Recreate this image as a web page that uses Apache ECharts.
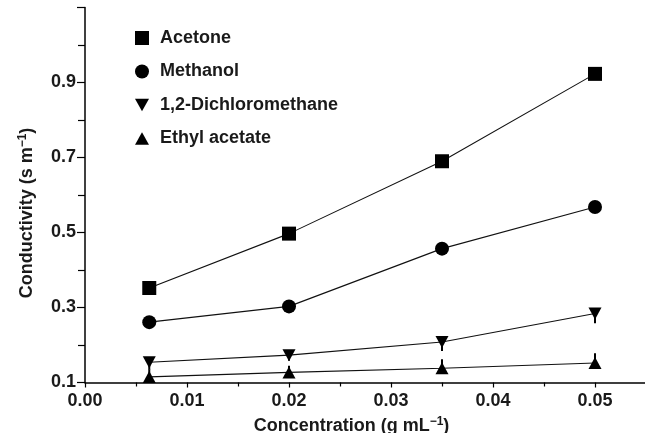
<!DOCTYPE html>
<html><head><meta charset="utf-8">
<script src="https://cdn.jsdelivr.net/npm/echarts@6/dist/echarts.min.js"></script>
<style>html,body{margin:0;padding:0;background:#fff}#c{width:645px;height:433px}</style>
</head><body><div id="c"></div>
<script>
var concentration = [0.0063, 0.02, 0.035, 0.05];
var acetone = [0.352, 0.497, 0.690, 0.923];
var methanol = [0.261, 0.303, 0.457, 0.568];
var dichloromethane = [0.154, 0.173, 0.208, 0.284];
var ethylAcetate = [0.115, 0.127, 0.138, 0.152];
var dcmErrDown = [0.02, 0.015, 0.024, 0.026];
var eaErrUp = [0.02, 0.018, 0.024, 0.026];
var seriesNames = ['Acetone', 'Methanol', '1,2-Dichloromethane', 'Ethyl acetate'];
var xTicks = [0, 0.01, 0.02, 0.03, 0.04, 0.05];
var yTicks = [0.1, 0.3, 0.5, 0.7, 0.9];

var FONT = '"Liberation Sans", Arial, sans-serif';
var downTri = 'path://M0,0 L10,0 L5,9 Z';
var upTri = 'path://M5,0 L10,9 L0,9 Z';

function pairs(ys){ return concentration.map(function(x,i){ return [x, ys[i]]; }); }
function errData(ys, e, dir){ return concentration.map(function(x,i){ return [x, ys[i], ys[i] + dir*e[i]]; }); }

function lineSeries(name, ys, symbol, size){
  return {
    name: name, type: 'line', data: pairs(ys), symbol: symbol, symbolSize: size,
    lineStyle: {color: '#111', width: 1.1}, itemStyle: {color: '#000'},
    showAllSymbol: true, z: 3, animation: false
  };
}
function errSeries(ys, e, dir){
  return {
    type: 'custom', data: errData(ys, e, dir), z: 2, silent: true, animation: false,
    renderItem: function(params, api){
      var p1 = api.coord([api.value(0), api.value(1)]);
      var p2 = api.coord([api.value(0), api.value(2)]);
      return {type: 'line', shape: {x1: p1[0], y1: p1[1], x2: p2[0], y2: p2[1]},
              style: {stroke: '#000', lineWidth: 2}};
    }
  };
}

var chart = echarts.init(document.getElementById('c'), null, {renderer: 'canvas'});
var labelStyle = {color: '#1a1a1a', fontFamily: FONT, fontWeight: 'bold', fontSize: 18};
var richName = {
  b: {fontFamily: FONT, fontWeight: 'bold', fontSize: 18, color: '#1a1a1a', lineHeight: 22},
  s: {fontFamily: FONT, fontWeight: 'bold', fontSize: 12, color: '#1a1a1a', lineHeight: 22, padding: [0,0,9,0]}
};
chart.setOption({
  animation: false,
  backgroundColor: '#fff',
  grid: {left: 85, top: 7.5, width: 561, height: 375, containLabel: false, outerBoundsMode: 'none'},
  legend: {
    orient: 'vertical', left: 130, top: 24, itemWidth: 14, itemHeight: 14, itemGap: 15.5,
    textStyle: {fontFamily: FONT, fontWeight: 'bold', fontSize: 18, color: '#1a1a1a', padding: [0,0,0,6]},
    data: [
      {name: seriesNames[0], icon: 'rect'},
      {name: seriesNames[1], icon: 'circle'},
      {name: seriesNames[2], icon: downTri},
      {name: seriesNames[3], icon: upTri}
    ]
  },
  xAxis: {
    type: 'value', min: 0, max: 0.055, interval: 0.01,
    axisLine: {lineStyle: {color: '#000', width: 1.5}},
    axisTick: {length: 5, lineStyle: {color: '#000', width: 1.2}},
    minorTick: {show: true, splitNumber: 2, length: 4, lineStyle: {color: '#000', width: 1.2}},
    splitLine: {show: false},
    axisLabel: Object.assign({margin: 10, formatter: function(v){
      return xTicks.some(function(t){return Math.abs(t-v)<1e-9;}) ? v.toFixed(2) : '';
    }}, labelStyle),
    name: '{b|Concentration (g mL}{s|−1}{b|)}',
    nameLocation: 'middle', nameGap: 30,
    nameTextStyle: {rich: richName, padding: [0, 28, 0, 0]}
  },
  yAxis: {
    type: 'value', min: 0.1, max: 1.1, interval: 0.2,
    axisLine: {lineStyle: {color: '#000', width: 1.5}},
    axisTick: {length: 8, lineStyle: {color: '#000', width: 1.2}},
    minorTick: {show: true, splitNumber: 2, length: 7, lineStyle: {color: '#000', width: 1.2}},
    splitLine: {show: false},
    axisLabel: Object.assign({margin: 9, formatter: function(v){
      return yTicks.some(function(t){return Math.abs(t-v)<1e-9;}) ? v.toFixed(1) : '';
    }}, labelStyle),
    name: '{b|Conductivity (s m}{s|−1}{b|)}',
    nameLocation: 'middle', nameGap: 47, nameRotate: 90,
    nameTextStyle: {rich: richName, padding: [0, 36, 0, 0]}
  },
  series: [
    lineSeries(seriesNames[0], acetone, 'rect', 14),
    lineSeries(seriesNames[1], methanol, 'circle', 14),
    lineSeries(seriesNames[2], dichloromethane, downTri, [13, 12]),
    lineSeries(seriesNames[3], ethylAcetate, upTri, [13, 12]),
    errSeries(dichloromethane, dcmErrDown, -1),
    errSeries(ethylAcetate, eaErrUp, 1)
  ]
});
</script></body></html>
